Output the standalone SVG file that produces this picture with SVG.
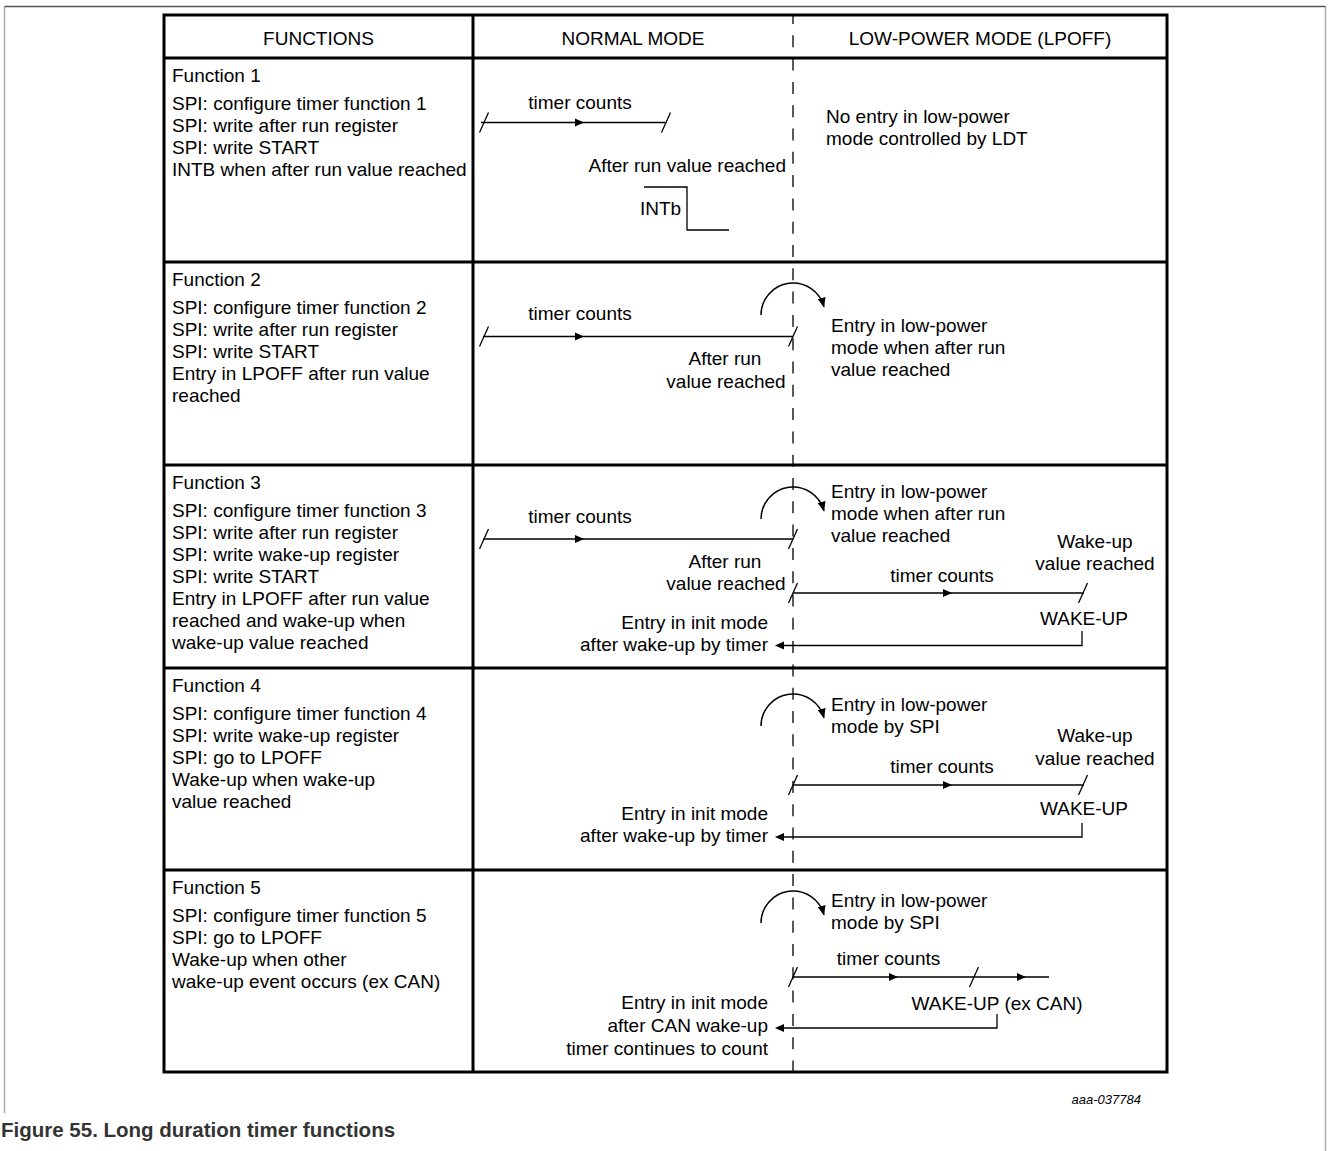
<svg xmlns="http://www.w3.org/2000/svg" xmlns:xlink="http://www.w3.org/1999/xlink" width="1328" height="1151" viewBox="0 0 1328 1151">
<style>
.t{font-family:"Liberation Sans",Arial,sans-serif;font-size:19px;fill:#000}
.c{text-anchor:middle}
.e{text-anchor:end}
.grid{stroke:#000;stroke-width:3;fill:none}
.ln{stroke:#000;stroke-width:1.3;fill:none}
.arc{stroke:#000;stroke-width:1.5;fill:none;marker-end:url(#arcHead)}
.dash{stroke:#000;stroke-width:1.3;stroke-dasharray:12 11.3;stroke-dashoffset:3}
.frameTop{stroke:#555;stroke-width:1.5;fill:none}
.frameSide{stroke:#aaa;stroke-width:1.5;fill:none}
.cap{font-family:"Liberation Sans",Arial,sans-serif;font-size:20.5px;font-weight:bold;fill:#333}
.id{font-family:"Liberation Sans",Arial,sans-serif;font-size:13px;font-style:italic;fill:#000;text-anchor:end}
</style>
<defs>
<marker id="arcHead" markerWidth="10" markerHeight="8" refX="9" refY="4" orient="auto" markerUnits="userSpaceOnUse"><path d="M0,0 L10,4 L0,8 Z" fill="#000"/></marker>
<path id="ar" d="M0,0 L-9,-4 L-9,4 Z" fill="#000"/>
<path id="al" d="M0,0 L9,-4 L9,4 Z" fill="#000"/>
<path id="sl" d="M-4.5,10 L4.5,-10" stroke="#000" stroke-width="1.3" fill="none"/>
</defs>
<rect width="1328" height="1151" fill="#fff"/>
<g id="frame">
<path class="frameSide" d="M4.5,1113 V6.5 M1325.5,6.5 V1151"/>
<path class="frameTop" d="M4.5,6.5 H1325.5"/>
</g>
<g id="table-grid">
<line class="dash" x1="793" y1="15" x2="793" y2="1072"/>
<rect class="grid" x="164" y="15" width="1003" height="1057"/>
<path class="grid" d="M164,58 H1167 M164,262 H1167 M164,465 H1167 M164,668 H1167 M164,870 H1167 M473,15 V1072"/>
</g>
<g id="header">
<text class="t c" x="318.5" y="45">FUNCTIONS</text>
<text class="t c" x="633" y="45">NORMAL MODE</text>
<text class="t c" x="980" y="45">LOW-POWER MODE (LPOFF)</text>
</g>
<g id="function1">
<text class="t" x="172" y="82">Function 1</text>
<text class="t" x="172" y="109.5">SPI: configure timer function 1</text>
<text class="t" x="172" y="131.5">SPI: write after run register</text>
<text class="t" x="172" y="153.5">SPI: write START</text>
<text class="t" x="172" y="175.5">INTB when after run value reached</text>
</g>
<g id="function1-normal">
<text class="t c" x="580" y="109">timer counts</text>
<text class="t e" x="786" y="172">After run value reached</text>
<text class="t" x="640" y="215">INTb</text>
<polyline class="ln" points="644,187 687,187 687,230 729,230"/>
</g>
<g id="function1-lpoff">
<text class="t" x="826" y="123">No entry in low-power</text>
<text class="t" x="826" y="145">mode controlled by LDT</text>
</g>
<g id="function2">
<text class="t" x="172" y="286">Function 2</text>
<text class="t" x="172" y="313.5">SPI: configure timer function 2</text>
<text class="t" x="172" y="335.5">SPI: write after run register</text>
<text class="t" x="172" y="357.5">SPI: write START</text>
<text class="t" x="172" y="379.5">Entry in LPOFF after run value</text>
<text class="t" x="172" y="401.5">reached</text>
</g>
<g id="function2-normal">
<text class="t c" x="580" y="320">timer counts</text>
<text class="t c" x="725" y="365">After run</text>
<text class="t c" x="726" y="388">value reached</text>
</g>
<g id="function2-lpoff">
<text class="t" x="831" y="332">Entry in low-power</text>
<text class="t" x="831" y="354">mode when after run</text>
<text class="t" x="831" y="376">value reached</text>
</g>
<g id="function3">
<text class="t" x="172" y="489">Function 3</text>
<text class="t" x="172" y="516.5">SPI: configure timer function 3</text>
<text class="t" x="172" y="538.5">SPI: write after run register</text>
<text class="t" x="172" y="560.5">SPI: write wake-up register</text>
<text class="t" x="172" y="582.5">SPI: write START</text>
<text class="t" x="172" y="604.5">Entry in LPOFF after run value</text>
<text class="t" x="172" y="626.5">reached and wake-up when</text>
<text class="t" x="172" y="648.5">wake-up value reached</text>
</g>
<g id="function3-normal">
<text class="t c" x="580" y="523">timer counts</text>
<text class="t c" x="725" y="568">After run</text>
<text class="t c" x="726" y="590">value reached</text>
<text class="t e" x="768" y="629">Entry in init mode</text>
<text class="t e" x="768" y="651">after wake-up by timer</text>
</g>
<g id="function3-lpoff">
<text class="t" x="831" y="498">Entry in low-power</text>
<text class="t" x="831" y="520">mode when after run</text>
<text class="t" x="831" y="542">value reached</text>
<text class="t c" x="1095" y="548">Wake-up</text>
<text class="t c" x="1095" y="570">value reached</text>
<text class="t c" x="942" y="582">timer counts</text>
<text class="t c" x="1084" y="625">WAKE-UP</text>
</g>
<g id="function4">
<text class="t" x="172" y="692">Function 4</text>
<text class="t" x="172" y="719.5">SPI: configure timer function 4</text>
<text class="t" x="172" y="741.5">SPI: write wake-up register</text>
<text class="t" x="172" y="763.5">SPI: go to LPOFF</text>
<text class="t" x="172" y="785.5">Wake-up when wake-up</text>
<text class="t" x="172" y="807.5">value reached</text>
</g>
<g id="function4-normal">
<text class="t e" x="768" y="820">Entry in init mode</text>
<text class="t e" x="768" y="842">after wake-up by timer</text>
</g>
<g id="function4-lpoff">
<text class="t" x="831" y="711">Entry in low-power</text>
<text class="t" x="831" y="733">mode by SPI</text>
<text class="t c" x="1095" y="742">Wake-up</text>
<text class="t c" x="1095" y="765">value reached</text>
<text class="t c" x="942" y="773">timer counts</text>
<text class="t c" x="1084" y="815">WAKE-UP</text>
</g>
<g id="function5">
<text class="t" x="172" y="894">Function 5</text>
<text class="t" x="172" y="921.5">SPI: configure timer function 5</text>
<text class="t" x="172" y="943.5">SPI: go to LPOFF</text>
<text class="t" x="172" y="965.5">Wake-up when other</text>
<text class="t" x="172" y="987.5">wake-up event occurs (ex CAN)</text>
</g>
<g id="function5-normal">
<text class="t e" x="768" y="1009">Entry in init mode</text>
<text class="t e" x="768" y="1032">after CAN wake-up</text>
<text class="t e" x="768" y="1055">timer continues to count</text>
</g>
<g id="function5-lpoff">
<text class="t" x="831" y="907">Entry in low-power</text>
<text class="t" x="831" y="929">mode by SPI</text>
<text class="t c" x="888.5" y="965">timer counts</text>
<text class="t c" x="997" y="1010">WAKE-UP (ex CAN)</text>
</g>
<g id="connectors">
<path class="ln" d="M481,122.5 H665"/>
<use href="#sl" xlink:href="#sl" x="484" y="122.5"/>
<use href="#sl" xlink:href="#sl" x="666" y="122.5"/>
<use href="#ar" xlink:href="#ar" x="584" y="122.5"/>
<path class="ln" d="M483,336.5 H793"/>
<use href="#sl" xlink:href="#sl" x="484" y="336.5"/>
<use href="#sl" xlink:href="#sl" x="793" y="336.5"/>
<use href="#ar" xlink:href="#ar" x="584" y="336.5"/>
<path class="arc" d="M761,315 A32,32 0 0 1 823.9,306.7"/>
<path class="ln" d="M483,539 H793"/>
<use href="#sl" xlink:href="#sl" x="484" y="539"/>
<use href="#sl" xlink:href="#sl" x="793" y="539"/>
<use href="#ar" xlink:href="#ar" x="584" y="539"/>
<path class="arc" d="M761,519 A32,32 0 0 1 823.9,510.7"/>
<path class="ln" d="M793,593 H1084"/>
<use href="#sl" xlink:href="#sl" x="793" y="593"/>
<use href="#sl" xlink:href="#sl" x="1083" y="593"/>
<use href="#ar" xlink:href="#ar" x="952" y="593"/>
<path class="ln" d="M1082,631 V645.5 H783"/>
<use href="#al" xlink:href="#al" x="775" y="645.5"/>
<path class="arc" d="M761,726 A32,32 0 0 1 823.9,717.7"/>
<path class="ln" d="M793,785 H1084"/>
<use href="#sl" xlink:href="#sl" x="793" y="785"/>
<use href="#sl" xlink:href="#sl" x="1083" y="785"/>
<use href="#ar" xlink:href="#ar" x="952" y="785"/>
<path class="ln" d="M1082,823 V837 H783"/>
<use href="#al" xlink:href="#al" x="775" y="837"/>
<path class="arc" d="M761,923 A32,32 0 0 1 823.9,914.7"/>
<path class="ln" d="M793,977 H1049"/>
<use href="#sl" xlink:href="#sl" x="793" y="977"/>
<use href="#sl" xlink:href="#sl" x="974" y="977"/>
<use href="#ar" xlink:href="#ar" x="898" y="977"/>
<use href="#ar" xlink:href="#ar" x="1026" y="977"/>
<path class="ln" d="M997,1014 V1028 H783"/>
<use href="#al" xlink:href="#al" x="775" y="1028"/>
</g>
<g id="caption">
<text class="id" x="1141" y="1104">aaa-037784</text>
<text class="cap" x="1" y="1137">Figure 55.  Long duration timer functions</text>
</g>
</svg>
